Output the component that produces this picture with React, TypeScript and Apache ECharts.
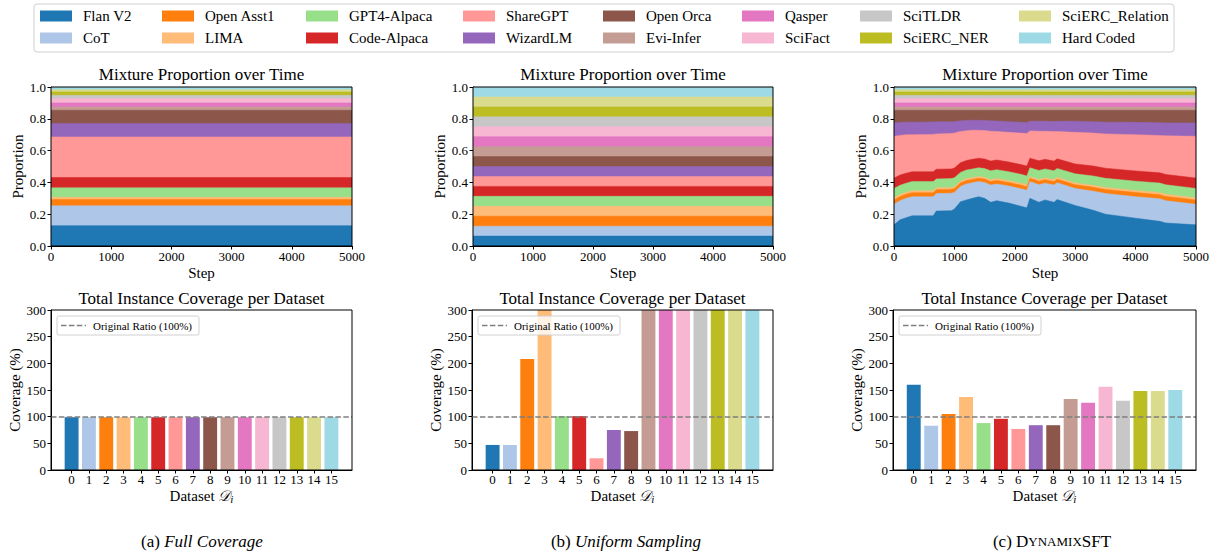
import React, { useEffect, useRef } from 'react';
import * as echarts from 'echarts';

// ---------------- data ----------------
const datasetNames = [
  'Flan V2', 'CoT', 'Open Asst1', 'LIMA', 'GPT4-Alpaca', 'Code-Alpaca', 'ShareGPT', 'WizardLM',
  'Open Orca', 'Evi-Infer', 'Qasper', 'SciFact', 'SciTLDR', 'SciERC_NER', 'SciERC_Relation', 'Hard Coded',
];
const datasetColors = [
  '#1f77b4', '#aec7e8', '#ff7f0e', '#ffbb78', '#98df8a', '#d62728', '#ff9896', '#9467bd',
  '#8c564b', '#c49c94', '#e377c2', '#f7b6d2', '#c7c7c7', '#bcbd22', '#dbdb8d', '#9edae5',
];
const datasetTickLabels = ['0', '1', '2', '3', '4', '5', '6', '7', '8', '9', '10', '11', '12', '13', '14', '15'];

// (a) full coverage: constant mixture
const constSteps = [0, 5000];
const fullCoverageShares = [0.128, 0.125, 0.040, 0.014, 0.059, 0.065, 0.255, 0.084, 0.084, 0.020, 0.026, 0.027, 0.021, 0.021, 0.014, 0.017];
// (b) uniform sampling: constant mixture
const uniformShares = [0.0625, 0.0625, 0.0625, 0.0625, 0.0625, 0.0625, 0.0625, 0.0625, 0.0625, 0.0625, 0.0625, 0.0625, 0.0625, 0.0625, 0.0625, 0.0625];

// (c) DynamixSFT: mixture over time
const dynSteps = [0, 100, 200, 300, 650, 700, 950, 1000, 1100, 1200, 1300, 1400, 1500, 1600, 1700, 1900, 2100, 2200, 2250, 2400, 2500, 2650, 2700, 3000, 3300, 3500, 4000, 4400, 4500, 5000];
const dynFlanV2 = [0.133, 0.165, 0.178, 0.190, 0.190, 0.220, 0.222, 0.232, 0.278, 0.290, 0.300, 0.310, 0.300, 0.275, 0.285, 0.270, 0.250, 0.240, 0.300, 0.275, 0.290, 0.275, 0.292, 0.255, 0.225, 0.200, 0.175, 0.155, 0.145, 0.133];
const dynCoT = [0.129, 0.120, 0.122, 0.120, 0.120, 0.110, 0.110, 0.105, 0.097, 0.100, 0.098, 0.095, 0.100, 0.108, 0.105, 0.107, 0.110, 0.110, 0.105, 0.110, 0.105, 0.108, 0.106, 0.107, 0.120, 0.130, 0.135, 0.142, 0.140, 0.129];
const dynOpenAsst1 = [0.027, 0.026, 0.025, 0.025, 0.025, 0.024, 0.024, 0.024, 0.022, 0.022, 0.021, 0.021, 0.021, 0.022, 0.022, 0.022, 0.023, 0.023, 0.021, 0.022, 0.022, 0.022, 0.022, 0.023, 0.024, 0.025, 0.026, 0.026, 0.027, 0.027];
const dynLIMA = [0.014, 0.013, 0.013, 0.013, 0.013, 0.012, 0.012, 0.012, 0.011, 0.011, 0.011, 0.011, 0.011, 0.012, 0.012, 0.012, 0.012, 0.012, 0.011, 0.012, 0.012, 0.012, 0.012, 0.012, 0.013, 0.013, 0.013, 0.014, 0.014, 0.014];
const dynGPT4Alpaca = [0.059, 0.058, 0.057, 0.057, 0.057, 0.056, 0.056, 0.056, 0.055, 0.055, 0.055, 0.055, 0.055, 0.056, 0.056, 0.056, 0.056, 0.056, 0.055, 0.056, 0.056, 0.056, 0.056, 0.057, 0.058, 0.058, 0.059, 0.059, 0.059, 0.059];
const dynCodeAlpaca = [0.065, 0.064, 0.063, 0.062, 0.062, 0.061, 0.061, 0.061, 0.060, 0.060, 0.060, 0.060, 0.060, 0.061, 0.061, 0.061, 0.061, 0.062, 0.060, 0.061, 0.060, 0.061, 0.060, 0.062, 0.063, 0.063, 0.064, 0.064, 0.065, 0.065];
const dynShareGPT = [0.263, 0.249, 0.242, 0.233, 0.235, 0.222, 0.223, 0.220, 0.197, 0.187, 0.183, 0.176, 0.179, 0.188, 0.179, 0.187, 0.198, 0.205, 0.172, 0.186, 0.177, 0.186, 0.172, 0.199, 0.207, 0.216, 0.228, 0.235, 0.243, 0.263];
const dynWizardLM = [0.084, 0.082, 0.080, 0.079, 0.078, 0.076, 0.073, 0.072, 0.067, 0.065, 0.063, 0.063, 0.064, 0.065, 0.066, 0.067, 0.068, 0.068, 0.061, 0.062, 0.063, 0.063, 0.064, 0.070, 0.072, 0.074, 0.078, 0.080, 0.081, 0.084];
const dynOpenOrca = [0.080, 0.077, 0.074, 0.075, 0.074, 0.073, 0.073, 0.072, 0.067, 0.064, 0.063, 0.063, 0.064, 0.067, 0.068, 0.072, 0.076, 0.078, 0.069, 0.070, 0.069, 0.071, 0.070, 0.069, 0.072, 0.075, 0.076, 0.079, 0.080, 0.080];
const dynEviInfer = [0.020, 0.020, 0.020, 0.020, 0.020, 0.020, 0.020, 0.020, 0.020, 0.020, 0.020, 0.020, 0.020, 0.020, 0.020, 0.020, 0.020, 0.020, 0.020, 0.020, 0.020, 0.020, 0.020, 0.020, 0.020, 0.020, 0.020, 0.020, 0.020, 0.020];
const dynQasper = [0.026, 0.026, 0.026, 0.026, 0.026, 0.026, 0.026, 0.026, 0.026, 0.026, 0.026, 0.026, 0.026, 0.026, 0.026, 0.026, 0.026, 0.026, 0.026, 0.026, 0.026, 0.026, 0.026, 0.026, 0.026, 0.026, 0.026, 0.026, 0.026, 0.026];
const dynSciFact = [0.027, 0.027, 0.027, 0.027, 0.027, 0.027, 0.027, 0.027, 0.027, 0.027, 0.027, 0.027, 0.027, 0.027, 0.027, 0.027, 0.027, 0.027, 0.027, 0.027, 0.027, 0.027, 0.027, 0.027, 0.027, 0.027, 0.027, 0.027, 0.027, 0.027];
const dynSciTLDR = [0.021, 0.021, 0.021, 0.021, 0.021, 0.021, 0.021, 0.021, 0.021, 0.021, 0.021, 0.021, 0.021, 0.021, 0.021, 0.021, 0.021, 0.021, 0.021, 0.021, 0.021, 0.021, 0.021, 0.021, 0.021, 0.021, 0.021, 0.021, 0.021, 0.021];
const dynSciERCNER = [0.021, 0.021, 0.021, 0.021, 0.021, 0.021, 0.021, 0.021, 0.021, 0.021, 0.021, 0.021, 0.021, 0.021, 0.021, 0.021, 0.021, 0.021, 0.021, 0.021, 0.021, 0.021, 0.021, 0.021, 0.021, 0.021, 0.021, 0.021, 0.021, 0.021];
const dynSciERCRelation = [0.014, 0.014, 0.014, 0.014, 0.014, 0.014, 0.014, 0.014, 0.014, 0.014, 0.014, 0.014, 0.014, 0.014, 0.014, 0.014, 0.014, 0.014, 0.014, 0.014, 0.014, 0.014, 0.014, 0.014, 0.014, 0.014, 0.014, 0.014, 0.014, 0.014];
const dynHardCoded = [0.017, 0.017, 0.017, 0.017, 0.017, 0.017, 0.017, 0.017, 0.017, 0.017, 0.017, 0.017, 0.017, 0.017, 0.017, 0.017, 0.017, 0.017, 0.017, 0.017, 0.017, 0.017, 0.017, 0.017, 0.017, 0.017, 0.017, 0.017, 0.017, 0.017];

// coverage (%) per dataset
const coverageFull = [99, 99, 99, 99, 99, 99, 99, 99, 99, 99, 99, 99, 99, 99, 99, 99];
const coverageUniform = [47, 47, 208, 420, 101, 101, 22, 75, 73, 330, 320, 340, 380, 400, 450, 390];
const coverageDynamix = [160, 83, 105, 137, 88, 96, 77, 84, 84, 133, 126, 156, 130, 148, 148, 150];
const originalRatio = 100;

// ---------------- layout ----------------
const FONT = "'Liberation Serif', 'Times New Roman', Times, serif";
const TOP_Y = 87, TOP_H = 159;
const BOT_Y = 310, BOT_H = 160;
const topBoxes = [{ left: 51, width: 301 }, { left: 473, width: 300 }, { left: 894, width: 302 }];
const botBoxes = [{ left: 51, width: 301 }, { left: 472, width: 301 }, { left: 893, width: 303 }];
const legendPatchX = [40, 162, 306, 463, 603, 742, 860, 1019];

// cumulative (stacked) tops of each dataset band, built from the share arrays
function cumulative(shareRows: number[][]): number[][] {
  const out: number[][] = [];
  shareRows.forEach((row, i) => {
    out.push(row.map((v, j) => (i === 0 ? v : out[i - 1][j] + v)));
  });
  return out;
}

function buildOption() {
  const dynShares = [dynFlanV2, dynCoT, dynOpenAsst1, dynLIMA, dynGPT4Alpaca, dynCodeAlpaca, dynShareGPT, dynWizardLM,
    dynOpenOrca, dynEviInfer, dynQasper, dynSciFact, dynSciTLDR, dynSciERCNER, dynSciERCRelation, dynHardCoded];
  const coverages = [coverageFull, coverageUniform, coverageDynamix];
  const panels = [
    { steps: constSteps, cum: cumulative(fullCoverageShares.map((v) => constSteps.map(() => v))) },
    { steps: constSteps, cum: cumulative(uniformShares.map((v) => constSteps.map(() => v))) },
    { steps: dynSteps, cum: cumulative(dynShares) },
  ];

  const grid: any[] = [];
  const xAxis: any[] = [];
  const yAxis: any[] = [];
  const series: any[] = [];
  const graphic: any[] = [];

  const axisText = { color: '#000', fontFamily: FONT, fontSize: 13 };
  const nameText = { color: '#000', fontFamily: FONT, fontSize: 15 };
  const axisLine = { show: true, onZero: false, lineStyle: { color: '#000', width: 1 } };

  topBoxes.forEach((b, g) => {
    grid.push({ left: b.left, top: TOP_Y, width: b.width, height: TOP_H, outerBoundsMode: 'none' });
    xAxis.push({
      type: 'value', gridIndex: g, min: 0, max: 5000, interval: 1000,
      name: 'Step', nameLocation: 'middle', nameGap: 19, nameTextStyle: nameText,
      axisLine,
      axisTick: { show: true, length: 3.5, lineStyle: { color: '#000' } },
      axisLabel: { ...axisText, margin: 4, formatter: (v: number) => String(v) },
      splitLine: { show: false },
    });
    yAxis.push({
      type: 'value', gridIndex: g, min: 0, max: 1, interval: 0.2,
      name: 'Proportion', nameLocation: 'middle', nameGap: 26, nameTextStyle: nameText,
      axisLine,
      axisTick: { show: true, length: 3.5, lineStyle: { color: '#000' } },
      axisLabel: { ...axisText, margin: 5, formatter: (v: number) => v.toFixed(1) },
      splitLine: { show: false },
    });
    const p = panels[g];
    // draw from the top band down so each lower band paints over the one above it
    for (let i = datasetNames.length - 1; i >= 0; i--) {
      series.push({
        type: 'line', name: datasetNames[i], xAxisIndex: g, yAxisIndex: g,
        symbol: 'none', showSymbol: false, silent: true,
        lineStyle: { width: 0.5, color: datasetColors[i] },
        itemStyle: { color: datasetColors[i] },
        areaStyle: { color: datasetColors[i], opacity: 1, origin: 'start' },
        data: p.steps.map((s, j) => [s, Math.min(1, p.cum[i][j])]),
      });
    }
    graphic.push({
      type: 'rect', z: 50, silent: true,
      shape: { x: b.left, y: TOP_Y, width: b.width, height: TOP_H },
      style: { fill: 'none', stroke: '#000', lineWidth: 1 },
    });
    graphic.push({
      type: 'text', z: 50, x: b.left + b.width / 2, y: TOP_Y - 13,
      style: { text: 'Mixture Proportion over Time', fontFamily: FONT, fontSize: 17, fill: '#000', textAlign: 'center', textVerticalAlign: 'middle' },
    });
  });

  botBoxes.forEach((b, k) => {
    const g = 3 + k;
    grid.push({ left: b.left, top: BOT_Y, width: b.width, height: BOT_H, outerBoundsMode: 'none' });
    xAxis.push({
      type: 'value', gridIndex: g, min: -1.19, max: 16.19,
      name: '{n|Dataset }{d|𝒟}{s|i}', nameLocation: 'middle', nameGap: 17,
      nameTextStyle: {
        ...nameText,
        rich: {
          n: { fontFamily: FONT, fontSize: 15, color: '#000' },
          d: { fontFamily: FONT, fontSize: 15, color: '#000', fontStyle: 'italic' },
          s: { fontFamily: FONT, fontSize: 11, color: '#000', fontStyle: 'italic', verticalAlign: 'bottom', padding: [6, 0, 0, 0] },
        },
      },
      axisLine,
      axisTick: { show: true, length: 3.5, lineStyle: { color: '#000' }, customValues: datasetTickLabels.map((t) => Number(t)) },
      axisLabel: { ...axisText, margin: 3, customValues: datasetTickLabels.map((t) => Number(t)) },
      splitLine: { show: false },
    });
    yAxis.push({
      type: 'value', gridIndex: g, min: 0, max: 300, interval: 50,
      name: 'Coverage (%)', nameLocation: 'middle', nameGap: 27, nameTextStyle: nameText,
      axisLine,
      axisTick: { show: true, length: 3.5, lineStyle: { color: '#000' } },
      axisLabel: { ...axisText, margin: 5 },
      splitLine: { show: false },
    });
    series.push({
      type: 'bar', name: 'coverage' + k, xAxisIndex: g, yAxisIndex: g, barWidth: 13.9,
      data: coverages[k].map((v, i) => ({ value: [i, v], itemStyle: { color: datasetColors[i] } })),
      silent: true,
      markLine: {
        silent: true, symbol: 'none', label: { show: false },
        lineStyle: { type: [5.5, 2.4], color: '#7f7f7f', width: 1.5 },
        data: [{ yAxis: originalRatio }],
      },
    });
    graphic.push({
      type: 'rect', z: 50, silent: true,
      shape: { x: b.left, y: BOT_Y, width: b.width, height: BOT_H },
      style: { fill: 'none', stroke: '#000', lineWidth: 1 },
    });
    graphic.push({
      type: 'text', z: 50, x: b.left + b.width / 2, y: BOT_Y - 12,
      style: { text: 'Total Instance Coverage per Dataset', fontFamily: FONT, fontSize: 17, fill: '#000', textAlign: 'center', textVerticalAlign: 'middle' },
    });
    const lx = b.left + 6, ly = 316;
    graphic.push({
      type: 'rect', z: 60, silent: true,
      shape: { x: lx, y: ly, width: 142, height: 19, r: 2 },
      style: { fill: 'rgba(255,255,255,0.8)', stroke: '#d0d0d0', lineWidth: 1 },
    });
    graphic.push({
      type: 'line', z: 61, silent: true,
      shape: { x1: lx + 4, y1: ly + 9.5, x2: lx + 29, y2: ly + 9.5 },
      style: { stroke: '#7f7f7f', lineWidth: 1.5, lineDash: [5.5, 2.4] },
    });
    graphic.push({
      type: 'text', z: 61, x: lx + 36, y: ly + 9.5,
      style: { text: 'Original Ratio (100%)', fontFamily: FONT, fontSize: 11, fill: '#000', textAlign: 'left', textVerticalAlign: 'middle' },
    });
  });

  // top legend
  graphic.push({
    type: 'rect', z: 40, silent: true,
    shape: { x: 34, y: 4, width: 1140, height: 48, r: 3 },
    style: { fill: '#fff', stroke: '#d0d0d0', lineWidth: 1 },
  });
  datasetNames.forEach((name, i) => {
    const col = Math.floor(i / 2), row = i % 2;
    const cy = row === 0 ? 16 : 38;
    graphic.push({
      type: 'rect', z: 41, silent: true,
      shape: { x: legendPatchX[col], y: cy - 5.5, width: 32, height: 11 },
      style: { fill: datasetColors[i] },
    });
    graphic.push({
      type: 'text', z: 41, x: legendPatchX[col] + 43, y: cy,
      style: { text: name, fontFamily: FONT, fontSize: 15, fill: '#000', textAlign: 'left', textVerticalAlign: 'middle' },
    });
  });

  // captions
  const capRich = {
    n: { fontFamily: FONT, fontSize: 17, fill: '#000' },
    i: { fontFamily: FONT, fontSize: 17, fill: '#000', fontStyle: 'italic' },
    sc: { fontFamily: FONT, fontSize: 13, fill: '#000' },
  };
  const captions = [
    { x: 202, text: '{n|(a) }{i|Full Coverage}' },
    { x: 626, text: '{n|(b) }{i|Uniform Sampling}' },
    { x: 1052, text: '{n|(c) D}{sc|YNAMIX}{n|SFT}' },
  ];
  captions.forEach((c) => {
    graphic.push({
      type: 'text', z: 50, x: c.x, y: 541,
      style: { text: c.text, rich: capRich, fontFamily: FONT, fontSize: 17, fill: '#000', textAlign: 'center', textVerticalAlign: 'middle' },
    });
  });

  return {
    animation: false,
    backgroundColor: '#fff',
    textStyle: { fontFamily: FONT },
    grid, xAxis, yAxis, series, graphic,
  };
}

export default function App() {
  const ref = useRef<HTMLDivElement>(null);
  useEffect(() => {
    const chart = echarts.init(ref.current as HTMLDivElement, null, { renderer: 'svg' });
    chart.setOption(buildOption() as any);
    return () => chart.dispose();
  }, []);
  return (
    <div
      ref={ref}
      style={{ position: 'fixed', left: 0, top: 0, width: 1217, height: 553, background: '#fff' }}
    />
  );
}
